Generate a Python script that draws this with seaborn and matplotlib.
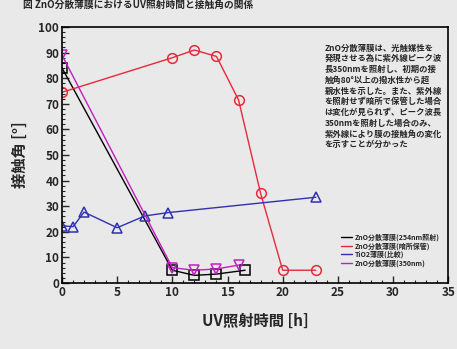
import numpy as np
import pandas as pd
import matplotlib
matplotlib.use("Agg")
import matplotlib.pyplot as plt
import seaborn as sns
from matplotlib.ticker import MultipleLocator

# data (UV irradiation time [h] vs contact angle [deg])
black_x = [0, 10, 12, 14, 16.6]
black_y = [84, 5, 3, 3.5, 5]
red_x = [0, 10, 12, 14, 16, 18, 20, 23]
red_y = [74.5, 88, 91, 88.5, 71.5, 35, 5, 5]
blue_x = [0, 1, 2, 5, 7.5, 9.6, 23]
blue_y = [22.4, 22, 27.7, 21.6, 26.2, 27.5, 33.5]
magenta_x = [0, 10, 12, 14, 16]
magenta_y = [89, 6, 5, 5.5, 7]

labels = ["ZnO分散薄膜(254nm照射)", "ZnO分散薄膜(暗所保管)",
          "TiO2薄膜(比較)", "ZnO分散薄膜(350nm)"]
x_ticks = [0, 5, 10, 15, 20, 25, 30, 35]
y_ticks = [0, 10, 20, 30, 40, 50, 60, 70, 80, 90, 100]

note = ("ZnO分散薄膜は、光触媒性を\n"
        "発現させる為に紫外線ピーク波\n"
        "長350nmを照射し、初期の接\n"
        "触角80°以上の撥水性から超\n"
        "親水性を示した。また、紫外線\n"
        "を照射せず暗所で保管した場合\n"
        "は変化が見られず、ピーク波長\n"
        "350nmを照射した場合のみ、\n"
        "紫外線により膜の接触角の変化\n"
        "を示すことが分かった")

sns.set_theme(style="ticks")
plt.rcParams['font.family'] = ['Noto Sans CJK JP', 'DejaVu Sans']
bg = "#e9e9e9"

fig = plt.figure(figsize=(4.57, 3.49), dpi=100, facecolor=bg)
ax = fig.add_axes([0.1357, 0.189, 0.845, 0.7337], facecolor=bg)

series = [
    (black_x, black_y, "black", "s", labels[0]),
    (red_x, red_y, "#e8283c", "o", labels[1]),
    (blue_x, blue_y, "#3030b0", "^", labels[2]),
    (magenta_x, magenta_y, "#c020c0", "v", labels[3]),
]
for xs, ys, col, mk, lab in series:
    df = pd.DataFrame({"t": xs, "angle": ys})
    sns.lineplot(data=df, x="t", y="angle", ax=ax, color=col, marker=mk,
                 markersize=7, markerfacecolor="none", markeredgecolor=col,
                 markeredgewidth=1.1, linewidth=1.0, label=lab)

ax.set_xlim(0, 35)
ax.set_ylim(0, 100)
ax.set_xticks(x_ticks)
ax.set_yticks(y_ticks)
ax.xaxis.set_minor_locator(MultipleLocator(1))
ax.yaxis.set_minor_locator(MultipleLocator(2))
ax.tick_params(which="major", direction="in", length=5, width=1, labelsize=8.5, pad=2)
ax.tick_params(which="minor", direction="in", length=2.5, width=0.8)
for t in ax.get_xticklabels() + ax.get_yticklabels():
    t.set_fontweight("bold")
for s in ax.spines.values():
    s.set_linewidth(1.2)
    s.set_color("black")

ax.set_xlabel("UV照射時間 [h]", fontsize=11, fontweight="bold", labelpad=10)
ax.set_ylabel("接触角 [°]", fontsize=11, fontweight="bold", labelpad=8)

leg = ax.legend(loc="lower right", bbox_to_anchor=(0.995, 0.04), frameon=False,
                fontsize=5, handlelength=1.6, handletextpad=0.4,
                labelspacing=0.15, markerscale=0.0)
for t in leg.get_texts():
    t.set_fontweight("bold")

fig.text(0.71, 0.875, note, fontsize=6, fontweight="bold", va="top",
         ha="left", linespacing=1.25)
fig.text(0.05, 1.0, "図 ZnO分散薄膜におけるUV照射時間と接触角の関係",
         fontsize=7, fontweight="bold", va="top", ha="left")

fig.savefig("out.png", dpi=100, facecolor=bg)
